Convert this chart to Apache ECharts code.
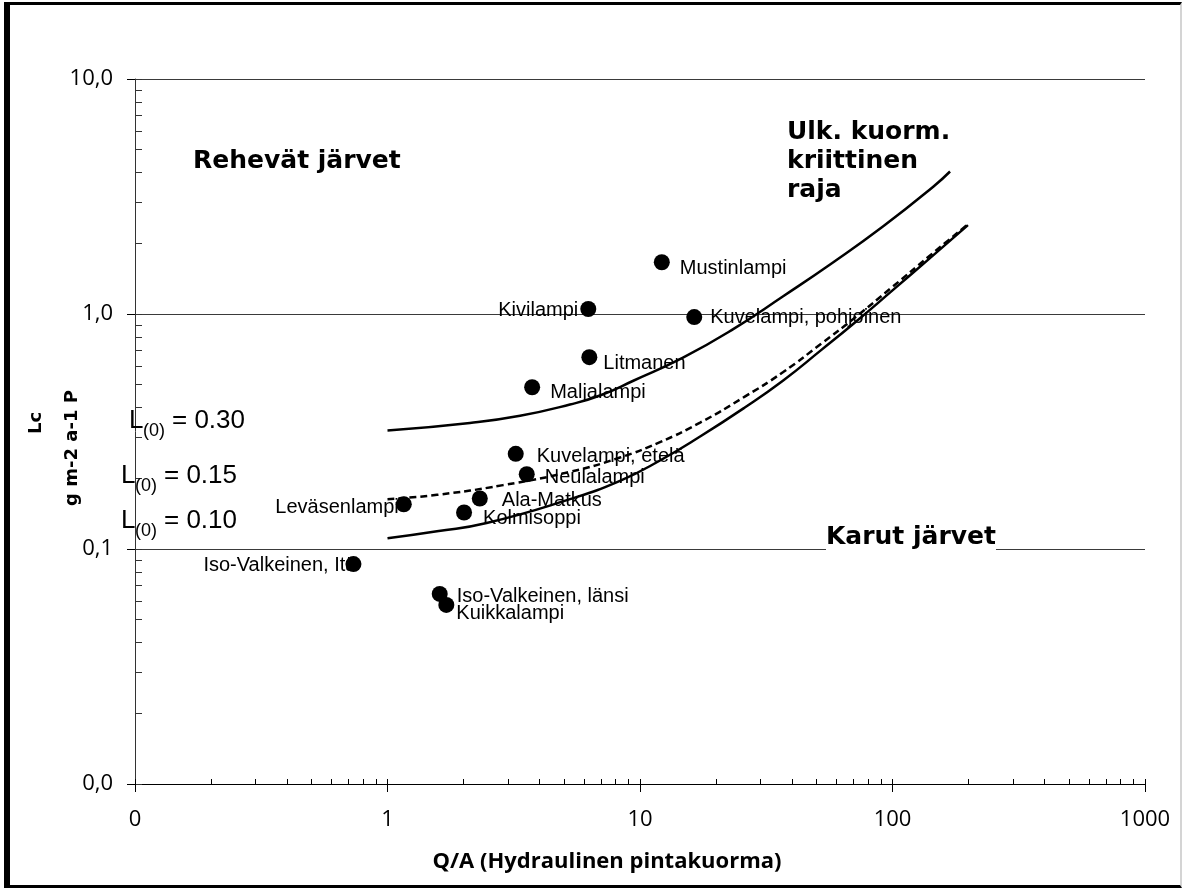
<!DOCTYPE html>
<html>
<head>
<meta charset="utf-8">
<script src="https://cdn.jsdelivr.net/npm/echarts@6/dist/echarts.min.js"></script>
<style>
  html, body { margin: 0; padding: 0; background: #fff; }
  #main { position: absolute; left: 0; top: 0; width: 1183px; height: 888px; }
  #frame { position: absolute; left: 4px; top: 2px; right: 1px; bottom: 0; border-left: 6px solid #000; border-top: 3px solid #000; border-bottom: 3px solid #000; border-right: 2px solid #d4d4d4; pointer-events: none; }
</style>
</head>
<body>
<div id="main"></div>
<div id="frame"></div>
<script>
// lakes (Q/A, Lc)
var lakes = ['Mustinlampi', 'Kuvelampi, pohjoinen', 'Kivilampi', 'Litmanen', 'Maljalampi',
  'Kuvelampi, etelä', 'Neulalampi', 'Ala-Matkus', 'Kolmisoppi', 'Leväsenlampi',
  'Iso-Valkeinen, Itä', 'Iso-Valkeinen, länsi', 'Kuikkalampi'];
var qa = [12.2, 16.4, 6.24, 6.30, 3.74, 3.22, 3.56, 2.32, 2.01, 1.16, 0.733, 1.61, 1.71];
var lc = [1.66, 0.97, 1.05, 0.655, 0.488, 0.254, 0.208, 0.164, 0.143, 0.155, 0.0863, 0.0644, 0.0578];

// critical load curves
var curve030X = [1.0, 2.12, 3.35, 5.28, 6.94, 9.41, 14.8, 23.4, 36.9, 58.3, 91.9, 145, 169];
var curve030Y = [0.319, 0.344, 0.369, 0.412, 0.450, 0.520, 0.652, 0.862, 1.19, 1.66, 2.36, 3.48, 4.04];
var curve015X = [1.0, 1.57, 2.87, 5.28, 8.33, 12, 17.3, 26, 36.8, 52, 71, 100, 140, 199];
var curve015Y = [0.163, 0.170, 0.187, 0.213, 0.245, 0.285, 0.345, 0.445, 0.565, 0.745, 0.965, 1.305, 1.765, 2.41];
var curve010X = [1.0, 1.57, 2.47, 5.28, 8.33, 12, 17.3, 26, 36.8, 52, 71, 100, 140, 199];
var curve010Y = [0.111, 0.119, 0.129, 0.163, 0.195, 0.238, 0.301, 0.40, 0.52, 0.70, 0.92, 1.26, 1.72, 2.39];

// axis ticks
var xTicks = [0.1, 1, 10, 100, 1000];
var xTickLabels = ['0', '1', '10', '100', '1000'];
var yTicks = [0.01, 0.1, 1, 10];
var yTickLabels = ['0,0', '0,1', '1,0', '10,0'];

function logMinor(from, to) { // 1..9 steps inside each decade
  var out = [];
  for (var d = from; d < to; d++) {
    for (var k = 1; k <= 9; k++) out.push(k * Math.pow(10, d));
  }
  out.push(Math.pow(10, to));
  return out;
}

function zip(xs, ys) {
  return xs.map(function (x, i) { return [x, ys[i]]; });
}

// where each name sits next to its dot
var labelPlace = {
  'Mustinlampi': ['right', 10, 6],
  'Kuvelampi, pohjoinen': ['right', 8, 0],
  'Kivilampi': ['left', 2, 1],
  'Litmanen': ['right', 6, 6],
  'Maljalampi': ['right', 10, 5],
  'Kuvelampi, etelä': ['right', 13, 3],
  'Neulalampi': ['right', 10, 3],
  'Ala-Matkus': ['right', 14, 2],
  'Kolmisoppi': ['right', 11, 6],
  'Leväsenlampi': ['left', -3, 3],
  'Iso-Valkeinen, Itä': ['left', -11, 1],
  'Iso-Valkeinen, länsi': ['right', 9, 3],
  'Kuikkalampi': ['right', 2, 9]
};

var lakeData = lakes.map(function (name, i) {
  var p = labelPlace[name];
  return {
    name: name,
    value: [qa[i], lc[i]],
    label: { position: p[0], distance: p[1], offset: [0, p[2]] }
  };
});

var tickFont = { fontFamily: 'Open Sans', fontSize: 22, color: '#000' };

function txt(x, y, text, font, extra) {
  var style = { text: text, font: font, fill: '#000', align: 'left', verticalAlign: 'middle' };
  for (var k in extra) style[k] = extra[k];
  return { type: 'text', x: x, y: y, z: 100, style: style };
}

var big = 'bold 25px "DejaVu Sans"';
var lFont = '26px "Liberation Sans"';
var subFont = '18px "Liberation Sans"';

var chartDom = document.getElementById('main');
var myChart = echarts.init(chartDom);
var option;

option = {
  animation: false,
  backgroundColor: '#fff',
  grid: { left: 135, right: 38, top: 79, bottom: 104 },
  xAxis: [
    {
      type: 'log', logBase: 10, min: 0.1, max: 1000,
      axisLine: { lineStyle: { color: '#000', width: 1 } },
      axisTick: { inside: false, length: 8, lineStyle: { color: '#000' } },
      axisLabel: Object.assign({
        margin: 25,
        formatter: function (v) { return xTickLabels[xTicks.indexOf(+v)] || ''; }
      }, tickFont),
      splitLine: { show: false }
    },
    {
      type: 'log', logBase: 10, min: 0.1, max: 1000, position: 'bottom',
      axisLine: { show: false },
      axisLabel: { show: false },
      splitLine: { show: false },
      axisTick: { inside: true, length: 5, customValues: logMinor(-1, 3), lineStyle: { color: '#000' } }
    }
  ],
  yAxis: [
    {
      type: 'log', logBase: 10, min: 0.01, max: 10,
      axisLine: { show: true, lineStyle: { color: '#333', width: 1 } },
      axisTick: { show: true, inside: false, length: 8, lineStyle: { color: '#000' } },
      axisLabel: Object.assign({
        margin: 22,
        formatter: function (v) {
          var i = yTicks.indexOf(+v);
          return i >= 0 ? yTickLabels[i] : '';
        }
      }, tickFont),
      splitLine: { show: true, lineStyle: { color: '#3a3a3a', width: 1 } }
    },
    {
      type: 'log', logBase: 10, min: 0.01, max: 10, position: 'left',
      axisLine: { show: false },
      axisLabel: { show: false },
      splitLine: { show: false },
      axisTick: { show: true, inside: true, length: 7, customValues: logMinor(-2, 1), lineStyle: { color: '#333' } }
    }
  ],
  series: [
    {
      name: 'L(0) = 0.30', type: 'line', smooth: true, showSymbol: false, silent: true,
      lineStyle: { color: '#000', width: 2.5 },
      data: zip(curve030X, curve030Y)
    },
    {
      name: 'L(0) = 0.15', type: 'line', smooth: true, showSymbol: false, silent: true,
      lineStyle: { color: '#000', width: 2.5, type: [7, 4] },
      data: zip(curve015X, curve015Y)
    },
    {
      name: 'L(0) = 0.10', type: 'line', smooth: true, showSymbol: false, silent: true,
      lineStyle: { color: '#000', width: 2.5 },
      data: zip(curve010X, curve010Y)
    },
    {
      name: 'Järvet', type: 'scatter', symbol: 'circle', symbolSize: 16,
      itemStyle: { color: '#000', opacity: 1 },
      label: { show: true, formatter: '{b}', fontFamily: 'Liberation Sans', fontSize: 20, color: '#000' },
      data: lakeData
    }
  ],
  graphic: [
    txt(193, 161, 'Rehevät järvet', big),
    txt(787, 132, 'Ulk. kuorm.', big),
    txt(787, 161, 'kriittinen', big),
    txt(787, 190, 'raja', big),
    txt(826, 537, 'Karut järvet', big, { backgroundColor: '#fff', padding: [2, 0, 6, 0] }),

    txt(129, 421, 'L', lFont), txt(143, 431, '(0)', subFont), txt(172, 421, '= 0.30', lFont),
    txt(121, 476, 'L', lFont), txt(135, 486, '(0)', subFont), txt(164, 476, '= 0.15', lFont),
    txt(121, 521, 'L', lFont), txt(135, 531, '(0)', subFont), txt(164, 521, '= 0.10', lFont),

    { type: 'text', x: 36, y: 423, rotation: Math.PI / 2, z: 100,
      style: { text: 'Lc', font: 'bold 18px "DejaVu Sans"', fill: '#000', align: 'center', verticalAlign: 'middle' } },
    { type: 'text', x: 72, y: 448, rotation: Math.PI / 2, z: 100,
      style: { text: 'g m-2 a-1 P', font: 'bold 18px "DejaVu Sans"', fill: '#000', align: 'center', verticalAlign: 'middle' } },
    { type: 'text', x: 607, y: 862, z: 100,
      style: { text: 'Q/A (Hydraulinen pintakuorma)', font: 'bold 22px "Open Sans"', fill: '#000', align: 'center', verticalAlign: 'middle' } }
  ]
};

option && myChart.setOption(option);
window.onresize = function () {
  myChart.resize();
};
</script>
</body>
</html>
